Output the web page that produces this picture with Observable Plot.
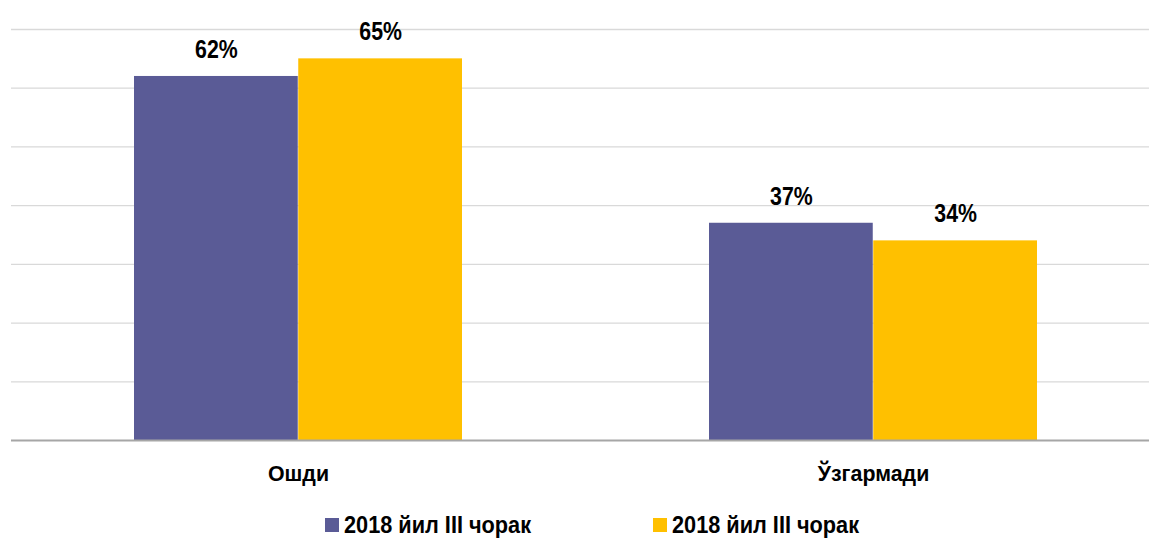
<!DOCTYPE html>
<html><head><meta charset="utf-8">
<script src="https://cdn.jsdelivr.net/npm/d3@7"></script>
<script src="https://cdn.jsdelivr.net/npm/@observablehq/plot@0.6"></script>
<style>
body{margin:0;background:#fff;}
#wrap{position:relative;width:1149px;height:538px;overflow:hidden;font-family:"Liberation Sans",Arial,sans-serif;font-weight:bold;}
#chart svg{max-width:none;}
.sw{position:absolute;width:14px;height:14px;top:518px;}
.lt{position:absolute;top:511px;font-size:23px;line-height:28px;color:#000;white-space:nowrap;transform:scaleX(0.944);transform-origin:0 0;}
</style></head>
<body><div id="wrap"><div id="chart"></div></div>
<script>
const categories = ["Ошди", "Ўзгармади"];
const seriesNames = ["2018 йил III чорак", "2018 йил III чорак"];
const seriesA = [62, 37];
const seriesB = [65, 34];
const colors = ["#5A5B96", "#FFC000"];
const yTicks = [10, 20, 30, 40, 50, 60, 70];

const dataA = categories.map((c, i) => ({category: c, value: seriesA[i]}));
const dataB = categories.map((c, i) => ({category: c, value: seriesB[i]}));
const font = '"Liberation Sans",Arial,sans-serif';
const half = 164.25;

const chart = Plot.plot({
  width: 1161, height: 505,
  marginLeft: 11, marginRight: 0, marginTop: 29, marginBottom: 65,
  style: {fontFamily: font, fontWeight: "bold", color: "#000", background: "#fff", maxWidth: "none"},
  x: {domain: categories, paddingInner: 0.4287, paddingOuter: 0.21435, label: null},
  y: {domain: [0, 70], label: null},
  marks: [
    Plot.ruleY(yTicks, {stroke: "#D9D9D9", strokeWidth: 1.3}),
    Plot.barY(dataA, {x: "category", y: "value", fill: colors[0], insetRight: half}),
    Plot.barY(dataB, {x: "category", y: "value", fill: colors[1], insetLeft: half}),
    Plot.ruleY([0], {stroke: "#A6A6A6", strokeWidth: 2}),
    Plot.text(dataA, {x: "category", y: "value", text: d => d.value + "%", dx: -half / 2, dy: -27, fontSize: 26, fontWeight: "bold", fill: "#000", className: "vlabel"}),
    Plot.text(dataB, {x: "category", y: "value", text: d => d.value + "%", dx: half / 2, dy: -27, fontSize: 26, fontWeight: "bold", fill: "#000", className: "vlabel"}),
    Plot.axisX({tickSize: 0, tickPadding: 25, fontSize: 22.5, fontWeight: "bold", fill: "#000", className: "xlabel"}),
    Plot.axisY({ticks: [], tickSize: 0})
  ]
});
// condense text horizontally (Arial Narrow look)
function condense(sel, s) {
  chart.querySelectorAll(sel).forEach(t => {
    const x = +(t.getAttribute("x") || 0);
    const prev = t.getAttribute("transform") || "";
    t.setAttribute("transform", `${prev} translate(${x},0) scale(${s},1) translate(${-x},0)`.trim());
  });
}
condense(".vlabel text", 0.82);
condense(".xlabel text", 0.95);
document.getElementById("chart").appendChild(chart);

const wrap = document.getElementById("wrap");
const swLeft = [325, 653];
seriesNames.forEach((name, i) => {
  const sw = document.createElement("div");
  sw.className = "sw";
  sw.style.left = swLeft[i] + "px";
  sw.style.background = colors[i];
  const t = document.createElement("div");
  t.className = "lt";
  t.style.left = (swLeft[i] + 19) + "px";
  t.textContent = name;
  wrap.appendChild(sw); wrap.appendChild(t);
});
</script></body></html>
